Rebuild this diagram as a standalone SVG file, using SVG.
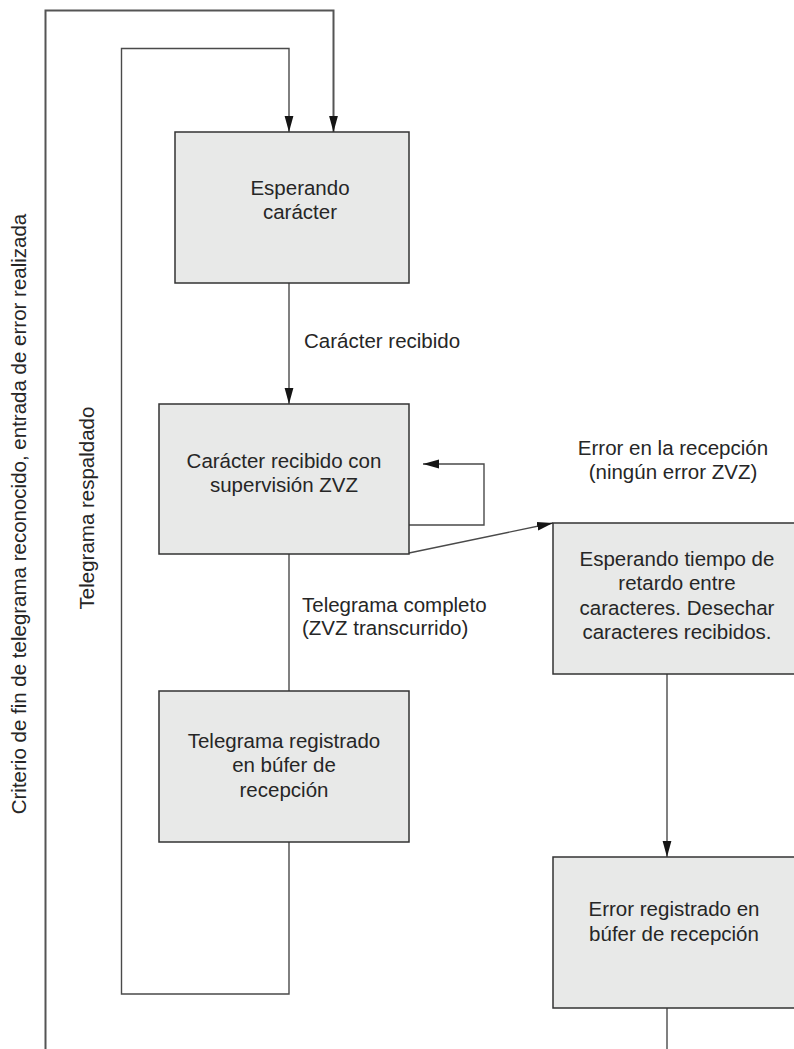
<svg xmlns="http://www.w3.org/2000/svg" width="794" height="1049" viewBox="0 0 794 1049">
  <style>
    .box { fill: #e8e9e8; stroke: #333; stroke-width: 1.5; }
    .wire { fill: none; stroke: #4a4a4a; stroke-width: 1.4; }
    .thick { stroke-width: 2; stroke: #555; }
    text { font-family: "Liberation Sans", Arial, sans-serif; font-size: 20.5px; fill: #262626; }
    .c { text-anchor: middle; }
  </style>
  <defs>
    <!-- filled triangular arrowhead, tip at the path end -->
    <marker id="arrow" viewBox="0 0 16 10" refX="16" refY="5" markerWidth="16" markerHeight="10" markerUnits="userSpaceOnUse" orient="auto">
      <path d="M0,0.6 L16,5 L0,9.4 Z" fill="#151515"/>
    </marker>
  </defs>

  <rect width="794" height="1049" fill="#fff"/>

  <!-- connectors -->
  <g id="connectors">
    <path class="wire thick" d="M45.5,1049 V10.5 H333.5 V132" marker-end="url(#arrow)"/>
    <path class="wire" d="M289,842 V994 H121.5 V48.5 H289 V132" marker-end="url(#arrow)"/>
    <path class="wire" d="M289,283 V404" marker-end="url(#arrow)"/>
    <path class="wire" d="M409,525 H484 V464 H423" marker-end="url(#arrow)"/>
    <path class="wire" d="M409,553 L553,523" marker-end="url(#arrow)"/>
    <path class="wire" d="M289,554 V691"/>
    <path class="wire" d="M667,674 V857" marker-end="url(#arrow)"/>
    <path class="wire" d="M667,1008 V1049"/>
  </g>

  <!-- transition labels -->
  <g id="labels">
    <text x="304" y="348">Carácter recibido</text>
    <text class="c" x="673" y="455">Error en la recepción</text>
    <text class="c" x="673" y="479">(ningún error ZVZ)</text>
    <text x="302" y="612">Telegrama completo</text>
    <text x="302" y="635">(ZVZ transcurrido)</text>
    <text class="c" transform="translate(26,514) rotate(-90)">Criterio de fin de telegrama reconocido, entrada de error realizada</text>
    <text class="c" transform="translate(94,508) rotate(-90)">Telegrama respaldado</text>
  </g>

  <g id="wait-char">
    <rect class="box" x="175" y="132" width="234" height="151"/>
    <text class="c" x="300" y="195">Esperando</text>
    <text class="c" x="300" y="219">carácter</text>
  </g>

  <g id="char-received">
    <rect class="box" x="159" y="404" width="250" height="150"/>
    <text class="c" x="284" y="468">Carácter recibido con</text>
    <text class="c" x="284" y="492">supervisión ZVZ</text>
  </g>

  <g id="telegram-stored">
    <rect class="box" x="159" y="691" width="250" height="151"/>
    <text class="c" x="284" y="748">Telegrama registrado</text>
    <text class="c" x="284" y="772">en búfer de</text>
    <text class="c" x="284" y="797">recepción</text>
  </g>

  <g id="wait-delay">
    <rect class="box" x="553" y="523" width="250" height="151"/>
    <text class="c" x="677" y="566">Esperando tiempo de</text>
    <text class="c" x="677" y="590">retardo entre</text>
    <text class="c" x="677" y="615">caracteres. Desechar</text>
    <text class="c" x="677" y="639">caracteres recibidos.</text>
  </g>

  <g id="error-stored">
    <rect class="box" x="553" y="857" width="250" height="151"/>
    <text class="c" x="674" y="916">Error registrado en</text>
    <text class="c" x="674" y="941">búfer de recepción</text>
  </g>
</svg>
